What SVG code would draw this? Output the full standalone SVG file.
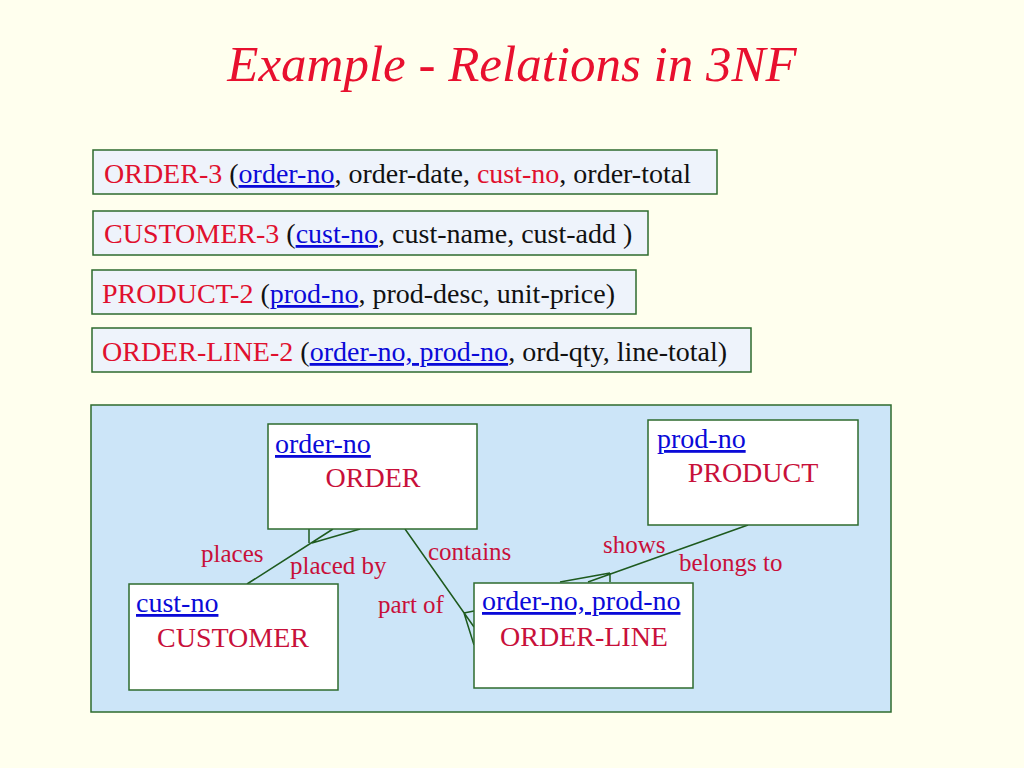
<svg xmlns="http://www.w3.org/2000/svg" width="1024" height="768" viewBox="0 0 1024 768">
<style>
.t{font-family:"Liberation Serif","Times New Roman",serif}
.title{font-size:51px;font-style:italic;fill:#E8102E}
.rel{font-size:28px;fill:#111}
.rn{fill:#E0102E}
.k{fill:#0A0AD8;text-decoration:underline}
.relbox{fill:#EEF3FB;stroke:#2E6B2E;stroke-width:1.5}
.panel{fill:#CCE5F8;stroke:#2E6B2E;stroke-width:1.5}
.ent{fill:#FFFFFF;stroke:#2E6B2E;stroke-width:1.5}
.key{font-size:28px;fill:#0A0AD8;text-decoration:underline}
.name{font-size:28px;fill:#C8103A;text-anchor:middle}
.lbl{font-size:25px;fill:#C8103A}
.cn{stroke:#1E5A1E;stroke-width:1.5;fill:none}
</style>
<rect width="1024" height="768" fill="#FFFFEE"/>
<text class="t title" x="512" y="81" text-anchor="middle">Example - Relations in 3NF</text>

<g id="rel-order3">
<rect class="relbox" x="93" y="150" width="624" height="44"/>
<text class="t rel" x="104" y="183"><tspan class="rn">ORDER-3</tspan> (<tspan class="k">order-no</tspan>, order-date, <tspan class="rn">cust-no</tspan>, order-total</text>
</g>
<g id="rel-customer3">
<rect class="relbox" x="93" y="211" width="555" height="44"/>
<text class="t rel" x="104" y="243"><tspan class="rn">CUSTOMER-3</tspan> (<tspan class="k">cust-no</tspan>, cust-name, cust-add )</text>
</g>
<g id="rel-product2">
<rect class="relbox" x="92" y="270" width="544" height="44"/>
<text class="t rel" x="102" y="303"><tspan class="rn">PRODUCT-2</tspan> (<tspan class="k">prod-no</tspan>, prod-desc, unit-price)</text>
</g>
<g id="rel-orderline2">
<rect class="relbox" x="92" y="328" width="659" height="44"/>
<text class="t rel" x="102" y="361"><tspan class="rn">ORDER-LINE-2</tspan> (<tspan class="k">order-no, prod-no</tspan>, ord-qty, line-total)</text>
</g>

<rect id="panel" class="panel" x="91" y="405" width="800" height="307"/>

<g id="connectors">
<path class="cn" d="M247,584 L333,529 M312,543 L360,529 M309,529 L309,543"/>
<path class="cn" d="M405,529 L474,627 M464,613 L474,611 M464,613 L474,645"/>
<path class="cn" d="M748,525 L588,582 M610,573 L560,582 M610,573 L610,582"/>
</g>

<g id="labels">
<text class="t lbl" x="201" y="562">places</text>
<text class="t lbl" x="290" y="574">placed by</text>
<text class="t lbl" x="428" y="560">contains</text>
<text class="t lbl" x="378" y="613">part of</text>
<text class="t lbl" x="603" y="553">shows</text>
<text class="t lbl" x="679" y="571">belongs to</text>
</g>

<g id="order">
<rect class="ent" x="268" y="424" width="209" height="105"/>
<text class="t key" x="275" y="453">order-no</text>
<text class="t name" x="373" y="487">ORDER</text>
</g>
<g id="customer">
<rect class="ent" x="129" y="584" width="209" height="106"/>
<text class="t key" x="136" y="612">cust-no</text>
<text class="t name" x="233" y="647">CUSTOMER</text>
</g>
<g id="product">
<rect class="ent" x="648" y="420" width="210" height="105"/>
<text class="t key" x="657" y="448">prod-no</text>
<text class="t name" x="753" y="482">PRODUCT</text>
</g>
<g id="orderline">
<rect class="ent" x="474" y="583" width="219" height="105"/>
<text class="t key" x="482" y="610">order-no, prod-no</text>
<text class="t name" x="584" y="646">ORDER-LINE</text>
</g>
</svg>
